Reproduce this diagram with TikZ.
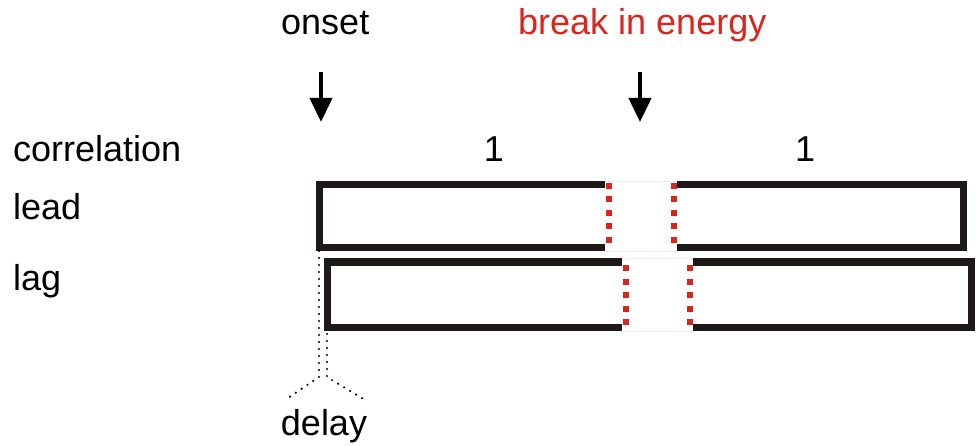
\documentclass[tikz,border=0pt]{standalone}
\usepackage{fontspec}
\setmainfont{Liberation Sans}
\usetikzlibrary{arrows.meta}
\definecolor{brk}{RGB}{218,37,29}
\definecolor{barcol}{RGB}{30,24,22}
\begin{document}
\begin{tikzpicture}[x=1pt,y=-1pt,
  lbl/.style={inner sep=0pt, anchor=base west, font=\fontsize{36}{42}\selectfont},
  bar/.style={line width=7pt, line join=miter, barcol},
  reddots/.style={line width=6pt, brk, dash pattern=on 6pt off 7.5pt},
  delayline/.style={line width=2.4pt, dash pattern=on 0pt off 7pt, line cap=round},
  marker/.style={line width=4pt, -{Triangle[width=22pt,length=24pt]}},
  ghost/.style={line width=0.8pt, black!7}]
\useasboundingbox (0,0) rectangle (979,446);

% labels
\node[lbl] (onset) at (281,35) {onset};
\node[lbl, text=brk] (brk) at (518,35) {break in energy};
\node[lbl] (corr) at (13,162) {correlation};
\node[lbl] (lead) at (13,220) {lead};
\node[lbl] (lag) at (13,290) {lag};
\node[lbl, anchor=base] (one1) at (494,162) {1};
\node[lbl, anchor=base] (one2) at (805,162) {1};
\node[lbl, anchor=base] (delay) at (324,435) {delay};

% arrows
\coordinate (onA) at (321,72);
\coordinate (onB) at (321,122);
\coordinate (bkA) at (640,72);
\coordinate (bkB) at (640,122);
\draw[marker] (onA) -- (onB);
\draw[marker] (bkA) -- (bkB);

% faint gap outlines
\draw[ghost] (605,181) -- (677,181) (605,251) -- (677,251);
\draw[ghost] (622,258) -- (693,258) (622,331) -- (693,331);

% lead bar
\draw[bar] (605,184.5) -- (319.5,184.5) -- (319.5,247.5) -- (605,247.5);
\draw[bar] (677,184.5) -- (963.5,184.5) -- (963.5,247.5) -- (677,247.5);
\draw[reddots] (608.5,183) -- (608.5,250);
\draw[reddots] (673.5,183) -- (673.5,250);

% lag bar
\draw[bar] (622,262) -- (327.5,262) -- (327.5,327) -- (622,327);
\draw[bar] (693,262) -- (971,262) -- (971,327) -- (693,327);
\draw[reddots] (625.5,265) -- (625.5,331);
\draw[reddots] (689.5,265) -- (689.5,331);

% delay marks
\coordinate (d1) at (319,251);
\coordinate (d2) at (319,377);
\coordinate (d3) at (285,400);
\coordinate (e1) at (327,334);
\coordinate (e2) at (327,377);
\coordinate (e3) at (365,400);
\draw[delayline] (d1) -- (d2) -- (d3);
\draw[delayline] (e1) -- (e2) -- (e3);
\end{tikzpicture}
\end{document}
